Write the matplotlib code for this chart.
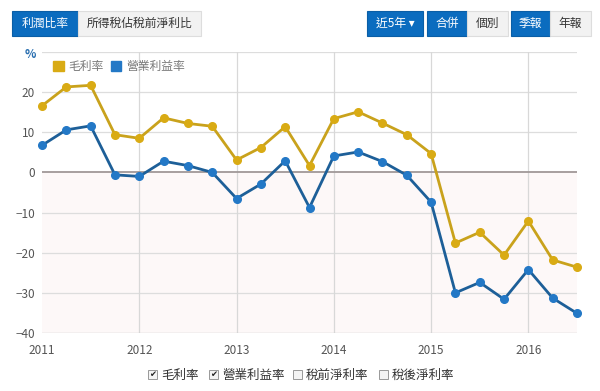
import matplotlib
matplotlib.use("Agg")
import matplotlib.pyplot as plt
from matplotlib.patches import Rectangle, Patch
import numpy as np

plt.rcParams['font.family'] = ['Noto Sans CJK TC', 'DejaVu Sans']

# quarterly data, 2011Q1 .. 2016Q3
quarters = np.arange(23) * 0.25 + 2011
gross_margin = [16.6, 21.3, 21.7, 9.4, 8.5, 13.6, 12.2, 11.5, 3.1, 6.2, 11.4, 1.7,
                13.4, 15.1, 12.3, 9.4, 4.7, -17.6, -14.9, -20.6, -12.1, -21.8, -23.6]
op_margin = [6.75, 10.6, 11.6, -0.6, -1.0, 2.8, 1.7, 0.0, -6.5, -2.9, 2.9, -8.75,
             4.1, 5.1, 2.7, -0.7, -7.4, -30.0, -27.4, -31.6, -24.2, -31.3, -35.1]
series_names = ['毛利率', '營業利益率']
year_ticks = [2011, 2012, 2013, 2014, 2015, 2016]
y_ticks = [-40, -30, -20, -10, 0, 10, 20]
check_labels = ['毛利率', '營業利益率', '稅前淨利率', '稅後淨利率']
check_state = [True, True, False, False]

W, H = 600, 391
fig = plt.figure(figsize=(W / 100, H / 100), dpi=100)


def fx(px):
    return px / W


def fy(py):
    return 1 - py / H


ax = fig.add_axes([fx(42), fy(333), fx(577) - fx(42), fy(52) - fy(333)])
ax.set_xlim(2011, 2016.5)
ax.set_ylim(-40, 30)

# faint pink area below zero
ax.axhspan(-40, 0, color='#fdf8f8', zorder=0)
for y in [-30, -20, -10, 10, 20, 30]:
    ax.axhline(y, color='#dddddd', lw=0.9, zorder=1)
for x in year_ticks[1:]:
    ax.axvline(x, color='#d8d8d8', lw=0.9, zorder=1)
ax.axhline(0, color='#a09898', lw=1.3, zorder=2)
ax.axhline(-40, color='#cccccc', lw=1.0, zorder=2)

ax.plot(quarters, gross_margin, color='#c9a21c', lw=2, zorder=3,
        marker='o', ms=5.5, mfc='#d9ab14', mec='#d9ab14', clip_on=False)
ax.plot(quarters, op_margin, color='#1d5f98', lw=2, zorder=3,
        marker='o', ms=5.5, mfc='#2378c6', mec='#2378c6', clip_on=False)

for s in ax.spines.values():
    s.set_visible(False)
ax.set_xticks(year_ticks)
ax.set_xticklabels([str(y) for y in year_ticks])
ax.set_yticks(y_ticks)
ax.tick_params(length=0, labelsize=8.5, colors='#555555')
ax.tick_params(axis='x', pad=8)
ax.tick_params(axis='y', pad=5)

fig.text(fx(30), fy(55), '%', fontsize=8.5, color='#2a6fb0', fontweight='bold',
         ha='center', va='center')

leg = ax.legend(handles=[Patch(color='#d9ab14'), Patch(color='#2378c6')],
                labels=series_names, loc='upper left', bbox_to_anchor=(0.005, 1.0),
                frameon=False, ncol=2, fontsize=8.5, handlelength=0.9, handleheight=0.9,
                handletextpad=0.4, columnspacing=0.6, borderaxespad=0.3)
for t in leg.get_texts():
    t.set_color('#777777')

# buttons along the top
buttons = [
    (12, 78, '利潤比率', True), (78, 201, '所得稅佔稅前淨利比', False),
    (367, 423, '近5年 ▾', True), (427, 467, '合併', True), (467, 508, '個別', False),
    (511, 550, '季報', True), (550, 591, '年報', False),
]
for x0, x1, label, active in buttons:
    face = '#0b6cbf' if active else '#f2f2f2'
    edge = '#0a5ea6' if active else '#dddddd'
    fig.add_artist(Rectangle((fx(x0), fy(36)), fx(x1) - fx(x0), fy(11) - fy(36),
                             transform=fig.transFigure, facecolor=face, edgecolor=edge, lw=0.8))
    fig.text(fx((x0 + x1) / 2), fy(23.5), label, fontsize=8.5, ha='center', va='center',
             color='white' if active else '#333333')

# checkbox row at the bottom
check_x = [152, 213, 297, 383]
for x, label, on in zip(check_x, check_labels, check_state):
    fig.add_artist(Rectangle((fx(x - 4), fy(379)), fx(9), fx(9) * W / H,
                             transform=fig.transFigure, facecolor='#f4f4f4',
                             edgecolor='#999999', lw=0.7))
    if on:
        fig.text(fx(x + 0.5), fy(374.5), '✔', fontsize=6, ha='center', va='center',
                 color='#222222', family=['DejaVu Sans'])
    fig.text(fx(x + 9), fy(375), label, fontsize=9, ha='left', va='center', color='#333333')

fig.savefig('out.png', dpi=100, facecolor='white')
